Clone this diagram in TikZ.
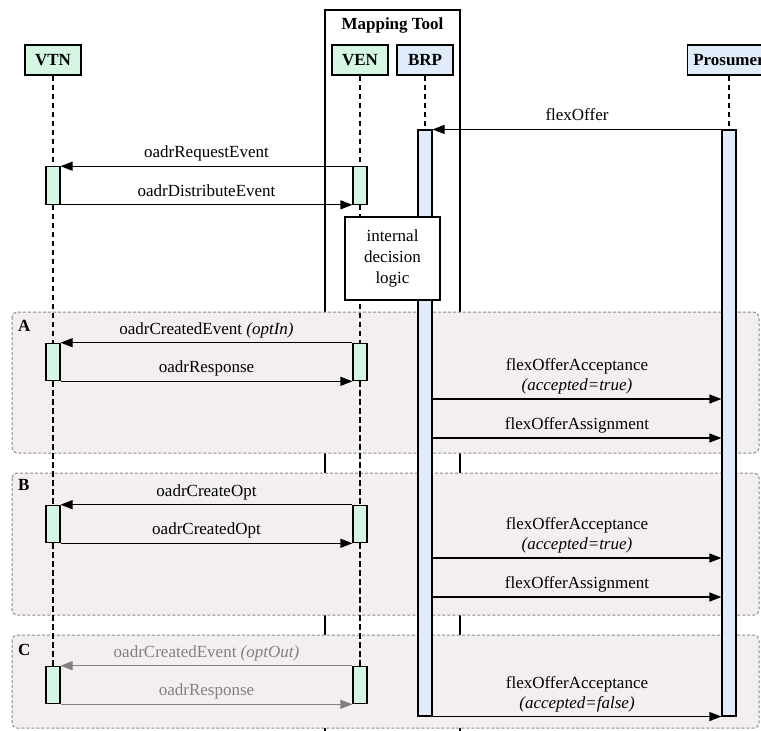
\documentclass[tikz,border=0pt]{standalone}
\usepackage{fontspec}
\setmainfont{Liberation Serif}
\usetikzlibrary{arrows.meta}
\definecolor{grn}{HTML}{D4F6E2}
\definecolor{blu}{HTML}{E1ECFB}
\definecolor{grp}{HTML}{F4EFEF}
\definecolor{grpline}{HTML}{8A8A8A}
\definecolor{msggray}{HTML}{808080}
\begin{document}
\begin{tikzpicture}[x=1pt,y=-1pt,
  every node/.style={font=\fontsize{17}{20}\selectfont},
  head/.style={draw, line width=1.1pt, minimum width=56pt, minimum height=30pt, inner sep=6pt, font=\fontsize{17}{20}\selectfont\bfseries},
  grnhead/.style={head, fill=grn},
  bluhead/.style={head, fill=blu},
  life/.style={line width=1.1pt, dash pattern=on 5.5pt off 3.5pt},
  gbar/.style={draw, line width=1.1pt, fill=grn, minimum width=14pt, minimum height=37.5pt, inner sep=0pt},
  bbar/.style={draw, line width=1.1pt, fill=blu, minimum width=14pt, minimum height=586pt, inner sep=0pt},
  msg/.style={line width=1.1pt, -{Triangle[length=12pt,width=9pt]}},
  lbl/.style={above=4pt, inner sep=0pt, text height=12pt, text depth=4pt},
  lbltwo/.style={above=4pt, inner sep=0pt, align=center},
  grpbox/.style={draw=grpline, fill=grp, line width=1pt, dash pattern=on 3pt off 2pt, rounded corners=5pt},
  grplbl/.style={font=\fontsize{17}{20}\selectfont\bfseries, inner sep=0pt, anchor=west},
  faded/.style={draw=msggray, text=msggray}
]
\clip (0,0) rectangle (761,731);

% Mapping Tool frame
\draw[line width=1.1pt] (325,731) -- (325,10) -- (460,10) -- (460,731);
\node[font=\fontsize{17}{20}\selectfont\bfseries] (mt) at (392.5,25) {Mapping Tool};

% group boxes
\draw[grpbox] (12,312) rectangle (759,453);
\draw[grpbox] (12,473) rectangle (759,615);
\draw[grpbox] (12,635) rectangle (759,728);
\node[grplbl] (gA) at (18,326) {A};
\node[grplbl] (gB) at (18,485) {B};
\node[grplbl] (gC) at (18,650) {C};

% headers
\node[grnhead] (vtn) at (53,60) {VTN};
\node[grnhead] (ven) at (360,60) {VEN};
\node[bluhead] (brp) at (425,60) {BRP};
\node[bluhead] (pro) at (729,60) {Prosumer};

% bars
\node[gbar] (vtn1) at (53,185.5) {};
\node[gbar] (ven1) at (360,185.5) {};
\node[gbar] (vtn2) at (53,362) {};
\node[gbar] (ven2) at (360,362) {};
\node[gbar] (vtn3) at (53,524) {};
\node[gbar] (ven3) at (360,524) {};
\node[gbar] (vtn4) at (53,685) {};
\node[gbar] (ven4) at (360,685) {};
\node[bbar] (brpbar) at (425,423) {};
\node[bbar] (probar) at (729,423) {};

% lifelines (behind bars)
\begin{scope}[on background layer/.try]
\end{scope}
\draw[life] (vtn.south) -- (vtn1.north);
\draw[life] (vtn1.south) -- (vtn2.north);
\draw[life] (vtn2.south) -- (vtn3.north);
\draw[life] (vtn3.south) -- (vtn4.north);
\draw[life] (ven.south) -- (ven1.north);
\draw[life] (ven1.south) -- (ven2.north);
\draw[life] (ven2.south) -- (ven3.north);
\draw[life] (ven3.south) -- (ven4.north);
\draw[life] (brp.south) -- (brpbar.north);
\draw[life] (pro.south) -- (probar.north);

% row coordinates
\coordinate (rA1) at (0,399);
\coordinate (rA2) at (0,438);
\coordinate (rB1) at (0,558);
\coordinate (rB2) at (0,597);

% messages
\draw[msg] (probar.north west) -- (brpbar.north east) node[lbl, midway] {flexOffer};
\draw[msg] (ven1.north west) -- (vtn1.north east) node[lbl, midway] {oadrRequestEvent};
\draw[msg] (vtn1.south east) -- (ven1.south west) node[lbl, midway] {oadrDistributeEvent};

\draw[msg] (ven2.north west) -- (vtn2.north east) node[lbl, midway] {oadrCreatedEvent \textit{(optIn)}};
\draw[msg] (vtn2.south east) -- (ven2.south west) node[lbl, midway] {oadrResponse};
\draw[msg] (brpbar.east |- rA1) -- (probar.west |- rA1) node[lbltwo, midway] {flexOfferAcceptance\\\textit{(accepted=true)}};
\draw[msg] (brpbar.east |- rA2) -- (probar.west |- rA2) node[lbl, midway] {flexOfferAssignment};

\draw[msg] (ven3.north west) -- (vtn3.north east) node[lbl, midway] {oadrCreateOpt};
\draw[msg] (vtn3.south east) -- (ven3.south west) node[lbl, midway] {oadrCreatedOpt};
\draw[msg] (brpbar.east |- rB1) -- (probar.west |- rB1) node[lbltwo, midway] {flexOfferAcceptance\\\textit{(accepted=true)}};
\draw[msg] (brpbar.east |- rB2) -- (probar.west |- rB2) node[lbl, midway] {flexOfferAssignment};

\draw[msg, faded] (ven4.north west) -- (vtn4.north east) node[lbl, midway, text=msggray] {oadrCreatedEvent \textit{(optOut)}};
\draw[msg, faded] (vtn4.south east) -- (ven4.south west) node[lbl, midway, text=msggray] {oadrResponse};
\draw[msg] (brpbar.south east) -- (probar.south west) node[lbltwo, midway] {flexOfferAcceptance\\\textit{(accepted=false)}};

% decision logic
\node[draw, fill=white, line width=1.1pt, minimum width=95pt, minimum height=83pt, align=center, inner sep=0pt, font=\fontsize{17}{21}\selectfont] (logic) at (392.5,258.5) {internal\\decision\\logic};
\end{tikzpicture}
\end{document}
